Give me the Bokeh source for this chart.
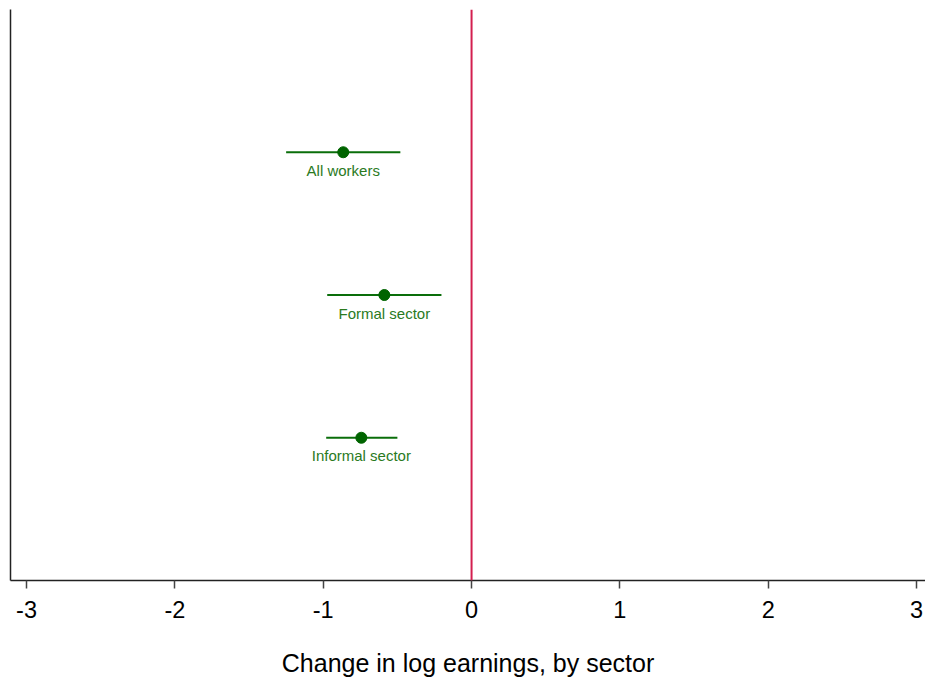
from bokeh.plotting import figure
from bokeh.models import ColumnDataSource, Span, FixedTicker, Range1d
from bokeh.core.properties import value
from bokeh.embed import file_html
from bokeh.resources import INLINE

labels = ["All workers", "Formal sector", "Informal sector"]
ypos = [3, 2, 1]
estimate = [-0.865, -0.588, -0.743]
ci_low = [-1.25, -0.973, -0.98]
ci_high = [-0.48, -0.203, -0.50]
xticks = [-3, -2, -1, 0, 1, 2, 3]
xtick_labels = ["-3", "-2", "-1", "0", "1", "2", "3"]

src = ColumnDataSource(dict(label=labels, y=ypos, est=estimate, lo=ci_low, hi=ci_high))

p = figure(width=925, height=679, output_backend="svg", toolbar_location=None,
           x_range=Range1d(-3.108, 3.06), y_range=Range1d(0, 4),
           min_border_left=10, min_border_right=0, min_border_top=9, min_border_bottom=0)
p.outline_line_color = None
p.grid.visible = False
p.background_fill_color = "white"

p.segment(x0="lo", x1="hi", y0="y", y1="y", source=src, line_color="#0a6e0a", line_width=2)
p.scatter(x="est", y="y", source=src, size=11, fill_color="#006400", line_color="#006400")
p.text(x="est", y="y", text="label", source=src, y_offset=18, text_align="center",
       text_baseline="middle", text_font=value("Liberation Sans"), text_font_size="15px",
       text_color="#2a7a1e")

p.add_layout(Span(location=0, dimension="height", line_color="#d31f4f", line_width=2))

p.xaxis.ticker = FixedTicker(ticks=xticks)
p.xaxis.major_label_overrides = {t: s for t, s in zip(xticks, xtick_labels)}
p.xaxis.axis_label = "Change in log earnings, by sector"
p.xaxis.axis_label_text_font = "Liberation Sans"
p.xaxis.axis_label_text_font_style = "normal"
p.xaxis.axis_label_text_font_size = "25px"
p.xaxis.axis_label_text_color = "black"
p.xaxis.axis_label_standoff = 28
p.xaxis.major_label_text_font = "Liberation Sans"
p.xaxis.major_label_text_font_size = "23.5px"
p.xaxis.major_label_text_color = "black"
p.xaxis.major_label_standoff = 12
p.xaxis.major_tick_out = 8
p.xaxis.major_tick_in = 0
p.xaxis.minor_tick_out = 0
p.xaxis.minor_tick_in = 0
p.xaxis.axis_line_color = "#222222"
p.xaxis.axis_line_width = 1.5
p.xaxis.major_tick_line_color = "#444444"
p.xaxis.major_tick_line_width = 1.5

p.yaxis.ticker = FixedTicker(ticks=[])
p.yaxis.major_label_text_font_size = "0px"
p.yaxis.major_tick_out = 0
p.yaxis.minor_tick_out = 0
p.yaxis.major_label_standoff = 0
p.yaxis.axis_line_color = "#222222"
p.yaxis.axis_line_width = 1.5

open("out.html", "w").write(file_html(p, INLINE))
